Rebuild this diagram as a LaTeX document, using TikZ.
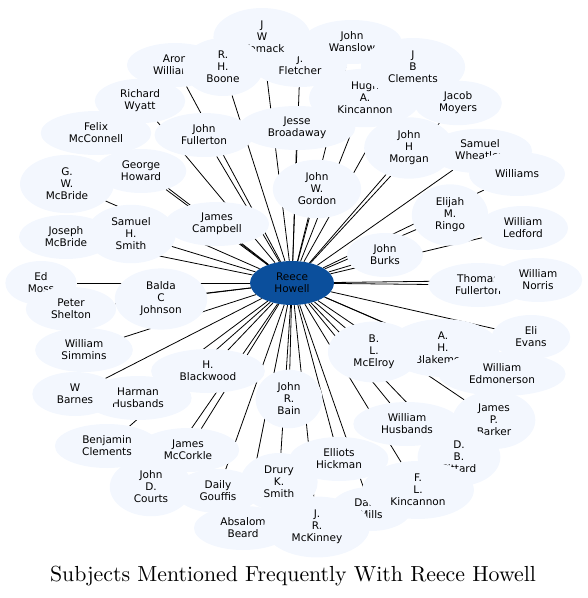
\documentclass[tikz,border=0pt]{standalone}
\usepackage{fontspec}
\usepackage{tikz}
\usetikzlibrary{shapes.geometric,backgrounds}
\newfontfamily\labelfont{DejaVu Sans}
\definecolor{paleblue}{RGB}{243,247,254}
\definecolor{hubblue}{RGB}{11,79,156}

\begin{document}
\begin{tikzpicture}[x=1pt,y=-1pt,
    subj/.style={ellipse,fill=paleblue,align=center,inner xsep=12pt,inner ysep=4.6pt,
      minimum width=66pt,minimum height=44pt,
      font=\labelfont\fontsize{10.5}{12}\selectfont},
    hub/.style={subj,fill=hubblue,minimum width=84pt},
    link/.style={line width=0.8pt,black}]
  \useasboundingbox (0,0) rectangle (588,598);
  % centre
  \node[hub] (RH) at (292,283) {Reece\\Howell};
  % top
  \node[subj] (JF) at (300,65) {J.\\Fletcher};
  \node[subj] (JWW) at (262,37) {J\\W\\Womack};
  \node[subj] (AW) at (175,65) {Aron\\Williams};
  \node[subj] (RHB) at (223,67) {R.\\H.\\Boone};
  \node[subj] (JWa) at (352,42) {John\\Wanslow};
  \node[subj] (HAK) at (365,98) {Hugh\\A.\\Kincannon};
  \node[subj] (JBC) at (413,67) {J\\B\\Clements};
  \node[subj] (JM) at (458,103) {Jacob\\Moyers};
  \node[subj] (JHM) at (409,148) {John\\H\\Morgan};
  \node[subj] (SW) at (480,151) {Samuel\\Wheatley};
  \node[subj] (Wi) at (517,174) {Williams};
  \node[subj] (RW) at (140,101) {Richard\\Wyatt};
  \node[subj] (FM) at (96,133) {Felix\\McConnell};
  \node[subj] (JFu) at (204,135) {John\\Fullerton};
  \node[subj] (JBr) at (297,128) {Jesse\\Broadaway};
  % middle band
  \node[subj] (GH) at (141,171) {George\\Howard};
  \node[subj] (GWM) at (67,184) {G.\\W.\\McBride};
  \node[subj] (JWG) at (317,189) {John\\W.\\Gordon};
  \node[subj] (EMR) at (450,215) {Elijah\\M.\\Ringo};
  \node[subj] (WL) at (523,228) {William\\Ledford};
  \node[subj] (JC) at (217,224) {James\\Campbell};
  \node[subj] (SHS) at (131,234) {Samuel\\H.\\Smith};
  \node[subj] (JoM) at (66,237) {Joseph\\McBride};
  \node[subj] (JB) at (385,255) {John\\Burks};
  \node[subj] (EM) at (41,283) {Ed\\Moss};
  \node[subj] (PS) at (71,309) {Peter\\Shelton};
  \node[subj] (BCJ) at (161,299) {Balda\\C\\Johnson};
  \node[subj] (TF) at (478,285) {Thomas\\Fullerton};
  \node[subj] (WN) at (538,280) {William\\Norris};
  \node[subj] (EE) at (531,337) {Eli\\Evans};
  \node[subj] (WS) at (84,350) {William\\Simmins};
  \node[subj] (AHB) at (443,348) {A.\\H.\\Blakemore};
  \node[subj] (BLM) at (374,352) {B.\\L.\\McElroy};
  \node[subj] (WE) at (502,374) {William\\Edmonerson};
  \node[subj] (HB) at (208,371) {H.\\Blackwood};
  \node[subj] (JRB) at (289,399) {John\\R.\\Bain};
  % bottom
  \node[subj] (HH) at (138,398) {Harman\\Husbands};
  \node[subj] (WB) at (75,394) {W\\Barnes};
  \node[subj] (WH) at (407,424) {William\\Husbands};
  \node[subj] (JPB) at (494,420) {James\\P.\\Barker};
  \node[subj] (DBP) at (459,457) {D.\\B.\\Pittard};
  \node[subj] (BC) at (107,446) {Benjamin\\Clements};
  \node[subj] (JMc) at (188,450) {James\\McCorkle};
  \node[subj] (JDC) at (151,487) {John\\D.\\Courts};
  \node[subj] (EH) at (339,459) {Elliots\\Hickman};
  \node[subj] (DM) at (371,509) {Daniel\\Mills};
  \node[subj] (FLK) at (418,490) {F.\\L.\\Kincannon};
  \node[subj] (DKS) at (279,482) {Drury\\K.\\Smith};
  \node[subj] (DG) at (218,491) {Daily\\Gouffis};
  \node[subj] (AB) at (243,528) {Absalom\\Beard};
  \node[subj] (JRM) at (317,527) {J.\\R.\\McKinney};
  % links, under the nodes
  \begin{scope}[on background layer]
    \draw[link] (RH) -- (JF);
    \draw[link] (RH) -- (JWW);
    \draw[link] (RH) -- (AW);
    \draw[link] (RH) -- (RHB);
    \draw[link] (RH) -- (JWa);
    \draw[link] (RH) -- (HAK);
    \draw[link] (RH) -- (JBC);
    \draw[link] (RH) -- (JM);
    \draw[link] (RH) -- (JHM);
    \draw[link] (RH) -- (SW);
    \draw[link] (RH) -- (Wi);
    \draw[link] (RH) -- (RW);
    \draw[link] (RH) -- (FM);
    \draw[link] (RH) -- (JFu);
    \draw[link] (RH) -- (JBr);
    \draw[link] (RH) -- (GH);
    \draw[link] (RH) -- (GWM);
    \draw[link] (RH) -- (JWG);
    \draw[link] (RH) -- (EMR);
    \draw[link] (RH) -- (WL);
    \draw[link] (RH) -- (JC);
    \draw[link] (RH) -- (SHS);
    \draw[link] (RH) -- (JoM);
    \draw[link] (RH) -- (JB);
    \draw[link] (RH) -- (EM);
    \draw[link] (RH) -- (PS);
    \draw[link] (RH) -- (BCJ);
    \draw[link] (RH) -- (TF);
    \draw[link] (RH) -- (WN);
    \draw[link] (RH) -- (EE);
    \draw[link] (RH) -- (WS);
    \draw[link] (RH) -- (AHB);
    \draw[link] (RH) -- (BLM);
    \draw[link] (RH) -- (WE);
    \draw[link] (RH) -- (HB);
    \draw[link] (RH) -- (JRB);
    \draw[link] (RH) -- (HH);
    \draw[link] (RH) -- (WB);
    \draw[link] (RH) -- (WH);
    \draw[link] (RH) -- (JPB);
    \draw[link] (RH) -- (DBP);
    \draw[link] (RH) -- (BC);
    \draw[link] (RH) -- (JMc);
    \draw[link] (RH) -- (JDC);
    \draw[link] (RH) -- (EH);
    \draw[link] (RH) -- (DM);
    \draw[link] (RH) -- (FLK);
    \draw[link] (RH) -- (DKS);
    \draw[link] (RH) -- (DG);
    \draw[link] (RH) -- (AB);
    \draw[link] (RH) -- (JRM);
  \end{scope}
  % title
  \node[scale=2.18,font=\fontsize{10}{12}\selectfont] (T) at (293,576) {Subjects Mentioned Frequently With Reece Howell};
\end{tikzpicture}
\end{document}
